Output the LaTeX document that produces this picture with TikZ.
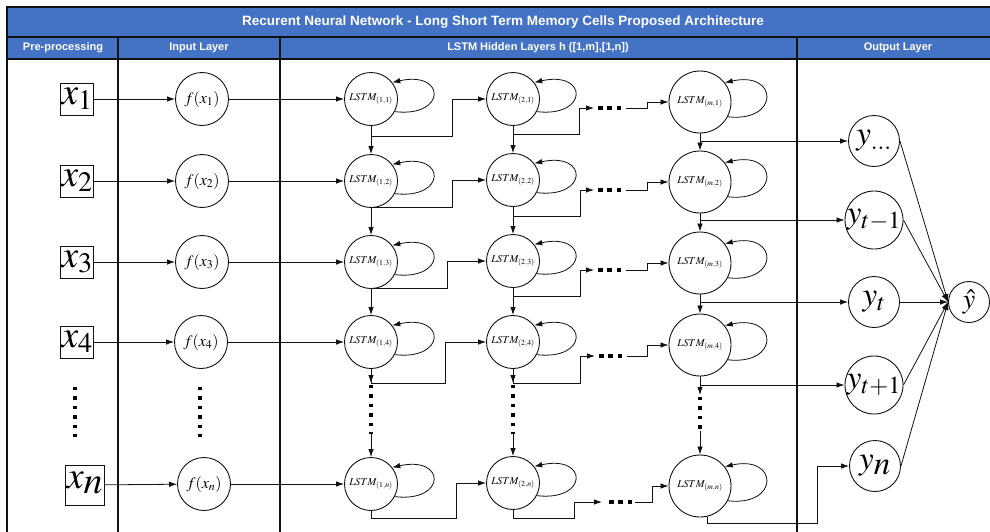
\documentclass[tikz,border=0pt]{standalone}
\usepackage{mathptmx}
\usepackage[no-math]{fontspec}
\newfontfamily\hdrfont{Liberation Sans}
\usetikzlibrary{arrows.meta,calc}

\definecolor{hdrblue}{HTML}{4472C4}
\definecolor{ink}{HTML}{111111}

\tikzset{
  frame/.style={draw=ink, line width=1.6pt},
  divider/.style={draw=ink, line width=2pt},
  hdrtext/.style={font=\hdrfont\bfseries\fontsize{13.5}{15}\selectfont, text=white},
  subtext/.style={font=\hdrfont\bfseries\fontsize{11}{13}\selectfont, text=white},
  inbox/.style={draw=ink, line width=0.9pt, inner sep=1pt, text height=20pt, text depth=10pt,
                font=\fontsize{38}{40}\selectfont},
  fnode/.style={circle, draw=ink, line width=0.9pt, minimum size=53pt, inner sep=0pt,
                font=\fontsize{16}{17}\selectfont},
  cell/.style={circle, draw=ink, line width=0.9pt, minimum size=53pt, inner sep=0pt,
               font=\fontsize{10.5}{11}\selectfont},
  bigcell/.style={cell, minimum size=62pt},
  outnode/.style={circle, draw=ink, line width=0.9pt, minimum size=51pt, inner sep=0pt,
                  font=\fontsize{33}{34}\selectfont},
  hatnode/.style={circle, draw=ink, line width=0.9pt, minimum size=41pt, inner sep=0pt,
                  font=\fontsize{28}{29}\selectfont},
  arr/.style={draw=ink, line width=0.8pt, -{Latex[length=8pt,width=5.5pt]}},
  wire/.style={draw=ink, line width=0.8pt},
  vdots/.style={draw=black, line width=3.4pt, dash pattern=on 3.4pt off 6pt},
  hdots/.style={draw=black, line width=4.6pt, dash pattern=on 4.6pt off 4.8pt},
}

\begin{document}
\begin{tikzpicture}[x=1pt,y=-1pt]
\useasboundingbox (0,0) rectangle (990,531);
\clip (0,0) rectangle (990,531);

% ---- table header and column frame ----
\fill[hdrblue] (7,7) rectangle (1000,59);
\draw[frame] (1000,7) -- (7,7) -- (7,540);
\draw[frame] (7,37) -- (1000,37);
\draw[frame] (7,59) -- (1000,59);
\foreach \cx in {118,280,797} \draw[divider] (\cx,37) -- (\cx,540);

\node[hdrtext] (title) at (503,22) {Recurent Neural Network - Long Short Term Memory Cells Proposed Architecture};
\node[subtext] (hpre)  at (63,48)  {Pre-processing};
\node[subtext] (hin)   at (199,48) {Input Layer};
\node[subtext] (hlstm) at (538,48) {LSTM Hidden Layers h ([1,m],[1,n])};
\node[subtext] (hout)  at (898,48) {Output Layer};

% ---- pre-processing inputs ----
\node[inbox] (X1) at (77,99)  {$x_1$};
\node[inbox] (X2) at (77,181) {$x_2$};
\node[inbox] (X3) at (77,262) {$x_3$};
\node[inbox] (X4) at (77,342) {$x_4$};
\node[inbox, text height=22pt, text depth=16pt] (Xn) at (85,485) {$x_{\textstyle n}$};

% ---- input layer ----
\node[fnode] (F1) at (202,99)  {$f(x_1)$};
\node[fnode] (F2) at (202,181) {$f(x_2)$};
\node[fnode] (F3) at (202,262) {$f(x_3)$};
\node[fnode] (F4) at (201,342) {$f(x_4)$};
\node[fnode] (Fn) at (204,484) {$f(x_n)$};

% ---- LSTM cells ----
\node[cell] (L11) at (371,99)  {$LSTM_{(1,1)}$};
\node[cell] (L12) at (371,181) {$LSTM_{(1,2)}$};
\node[cell] (L13) at (371,262) {$LSTM_{(1,3)}$};
\node[cell] (L14) at (371,342) {$LSTM_{(1,4)}$};
\node[cell] (L1n) at (371,484) {$LSTM_{(1,n)}$};

\node[cell] (L21) at (513,99)  {$LSTM_{(2,1)}$};
\node[cell] (L22) at (513,180) {$LSTM_{(2,2)}$};
\node[cell] (L23) at (513,261) {$LSTM_{(2,3)}$};
\node[cell] (L24) at (513,342) {$LSTM_{(2,4)}$};
\node[cell] (L2n) at (513,483) {$LSTM_{(2,n)}$};

\node[bigcell] (Lm1) at (700,102) {$LSTM_{(m,1)}$};
\node[bigcell] (Lm2) at (700,182) {$LSTM_{(m,2)}$};
\node[bigcell] (Lm3) at (700,263) {$LSTM_{(m,3)}$};
\node[bigcell] (Lm4) at (700,345) {$LSTM_{(m,4)}$};
\node[bigcell] (Lmn) at (700,486) {$LSTM_{(m,n)}$};

% ---- output layer ----
\node[outnode] (Y1) at (874,141) {$y_{\ldots}$};
\node[outnode] (Y2) at (874,220) {$y_{t-1}$};
\node[outnode] (Y3) at (874,302) {$y_t$};
\node[outnode] (Y4) at (874,385) {$y_{t+1}$};
\node[outnode] (Yn) at (875,466) {$y_{\textstyle n}$};
\node[hatnode] (Yh) at (969,302) {$\hat{y}$};

% ---- self-recurrence of every cell ----
\foreach \c in {L11,L12,L13,L14,L1n,L21,L22,L23,L24,L2n,Lm1,Lm2,Lm3,Lm4,Lmn}
  \draw[arr] (\c.-28) .. controls +(52,6) and +(54,-12) .. (\c.38);

% ---- inputs into the first hidden layer ----
\foreach \k in {1,2,3,4,n} {
  \draw[arr] (X\k) -- (F\k);
  \draw[arr] (F\k) -- (L1\k);
}

% ---- elided rows (vertical dots) ----
\draw[vdots] (75,387) -- (75,440);
\draw[vdots] (200,387) -- (200,440);

% ---- vertical flow inside each hidden column ----
\foreach \col/\cx/\ya/\yb in {1/371/383/432, 2/513/383/432, m/700/395/431} {
  \draw[arr] (L\col1) -- (L\col2);
  \draw[arr] (L\col2) -- (L\col3);
  \draw[arr] (L\col3) -- (L\col4);
  \coordinate (V\col a) at (\cx,\ya);
  \coordinate (V\col b) at (\cx,\yb);
  \draw[arr] (L\col4) -- (V\col a);
  \draw[vdots] ($(V\col a)+(0,2)$) -- ($(V\col b)+(0,2)$);
  \draw[arr] (V\col b) -- (L\col n);
}

% ---- first to second hidden layer ----
\draw[arr] (L11.south) |- (452,136) |- (L21.west);
\draw[arr] (L12.south) |- (452,207) |- (L22.west);
\draw[arr] (L13.south) |- (447,288) |- (L23.west);
\draw[arr] (L14.south) |- (445,383) |- (L24.west);
\draw[arr] (L1n.south) |- (456,518) |- (L2n.west);

% ---- second layer, elided layers, last layer ----
\foreach \r/\dy/\hy/\rx/\da/\db/\sx in {1/108/134/579/598/624/647, 2/190/216/580/598/624/647,
                                      3/270/296/580/598/624/647, 4/356/383/580/599/625/647} {
  \coordinate (D\r a) at (\da,\dy);
  \coordinate (D\r b) at (\db,\dy);
  \draw[arr] (L2\r.south) |- (\rx,\hy) |- ($(D\r a)+(-4,0)$);
  \draw[hdots] (D\r a) -- (D\r b);
  \draw[arr] ($(D\r b)+(2,0)$) -- (\sx,\dy) |- (Lm\r.west);
}
\coordinate (Dna) at (609,502);
\coordinate (Dnb) at (634,502);
\draw[arr] (L2n.south) |- (574,518) |- ($(Dna)+(-7,0)$);
\draw[hdots] (Dna) -- (Dnb);
\draw[arr] ($(Dnb)+(1,0)$) -- (652,502) |- (Lmn.west);

% ---- last hidden layer to outputs ----
\draw[arr] (Lm1.south |- Y1.west) -- (Y1.west);
\draw[arr] (Lm2.south |- Y2.west) -- (Y2.west);
\draw[arr] (Lm3.south |- Y3.west) -- (Y3.west);
\draw[arr] (Lm4.south |- Y4.west) -- (Y4.west);
\draw[arr] (Lmn.-77) |- (817,523) |- (Yn.west);

% ---- outputs into the prediction ----
\foreach \k in {Y1,Y2,Y3,Y4,Yn}
  \draw[arr] (\k.east) -- (Yh.west);

\end{tikzpicture}
\end{document}
